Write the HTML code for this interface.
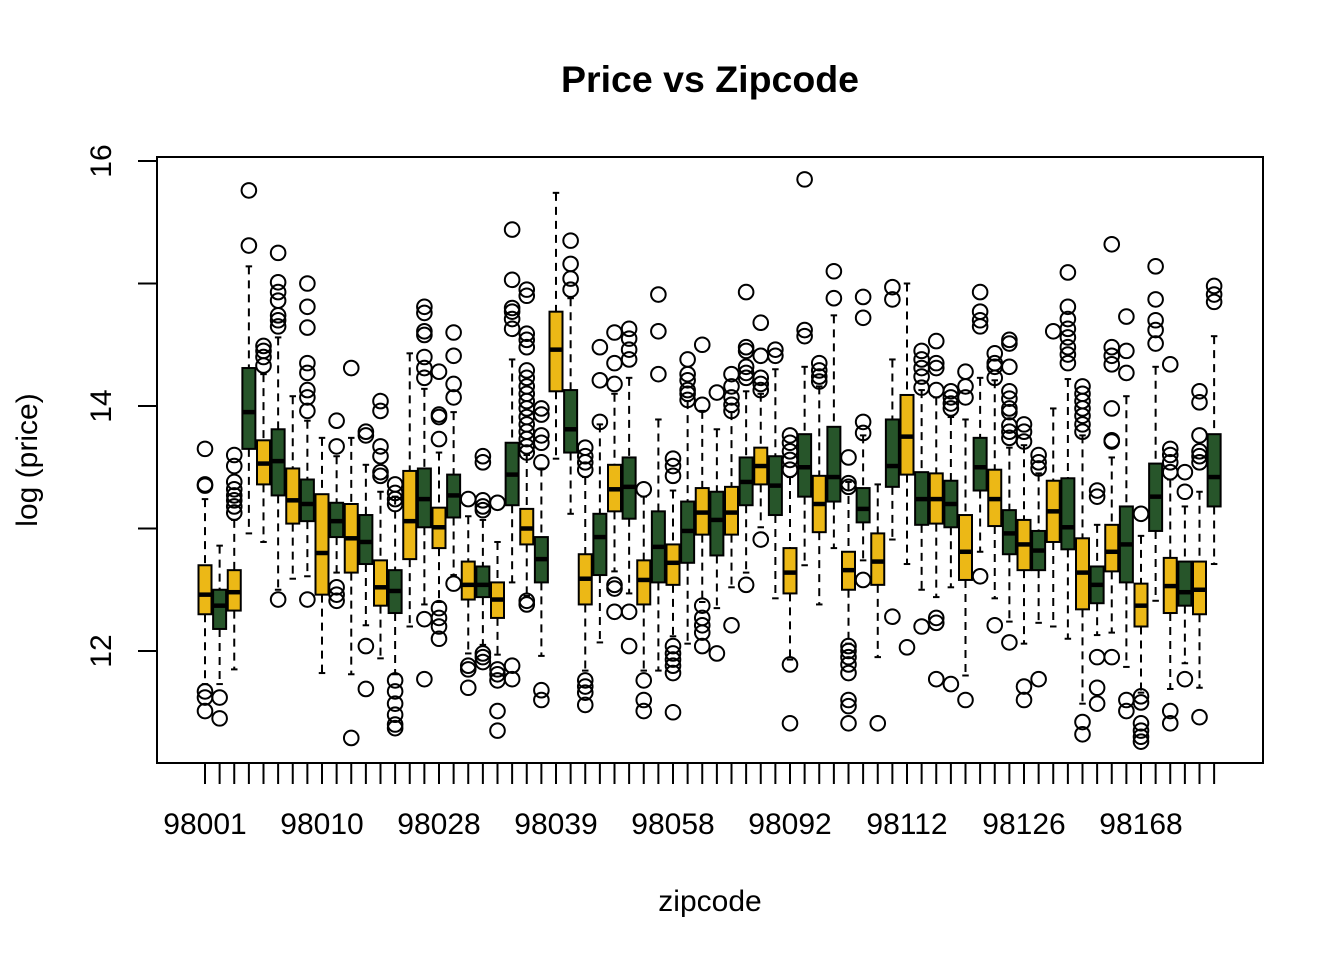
<!DOCTYPE html>
<html><head><meta charset="utf-8"><title>Price vs Zipcode</title>
<style>html,body{margin:0;padding:0;background:#fff;}svg{display:block;font-family:"Liberation Sans",Arial,sans-serif;}</style>
</head><body>
<svg id="chart" width="1344" height="960" viewBox="0 0 1344 960" xmlns="http://www.w3.org/2000/svg">
<rect x="0" y="0" width="1344" height="960" fill="#fff"/>
<text x="710" y="92" text-anchor="middle" font-size="37.5" font-weight="bold">Price vs Zipcode</text>
<text x="710" y="911" text-anchor="middle" font-size="30">zipcode</text>
<text transform="translate(37,460) rotate(-90)" text-anchor="middle" font-size="30">log (price)</text>
<g id="marks"></g>
<g id="axes"></g>
<rect x="157" y="157" width="1106" height="606" fill="none" stroke="#000" stroke-width="2"/>
</svg>
<script>
const lowWhisker=[11.73,11.73,11.85,12.96,12.89,12.50,12.59,12.61,11.82,12.64,11.81,12.21,11.94,11.81,12.20,12.38,12.40,12.62,11.98,12.05,11.97,12.56,12.45,11.96,13.57,13.12,11.84,12.07,12.65,12.47,11.84,11.84,12.12,12.06,12.40,12.35,12.52,12.64,13.01,12.43,11.93,12.70,12.38,12.84,12.06,12.74,11.95,12.91,12.71,12.50,12.44,12.52,11.80,12.81,12.43,12.24,12.06,12.23,12.20,12.10,11.57,12.13,12.15,11.87,11.66,12.41,11.69,11.90,11.70,12.71];
const q1=[12.30,12.18,12.33,13.65,13.36,13.27,13.04,13.06,12.46,12.93,12.64,12.71,12.37,12.31,12.75,13.01,12.84,13.09,12.42,12.44,12.27,13.19,12.87,12.56,14.12,13.62,12.38,12.62,13.14,13.08,12.38,12.56,12.54,12.72,12.95,12.78,12.95,13.19,13.36,13.11,12.47,13.26,12.97,13.22,12.50,13.05,12.54,13.34,13.44,13.03,13.04,13.01,12.58,13.31,13.02,12.79,12.66,12.66,12.89,12.83,12.34,12.39,12.65,12.56,12.20,12.98,12.31,12.37,12.30,13.18];
const medians=[12.46,12.37,12.48,13.95,13.53,13.55,13.23,13.20,12.80,13.06,12.92,12.89,12.52,12.49,13.06,13.24,13.01,13.27,12.54,12.54,12.42,13.44,13.00,12.75,14.46,13.81,12.59,12.93,13.32,13.34,12.58,12.85,12.72,12.98,13.13,13.07,13.13,13.38,13.51,13.35,12.64,13.50,13.20,13.42,12.66,13.16,12.73,13.51,13.75,13.24,13.24,13.20,12.81,13.50,13.24,12.96,12.87,12.82,13.14,13.01,12.64,12.54,12.81,12.87,12.37,13.26,12.53,12.48,12.50,13.42];
const q3=[12.70,12.50,12.66,14.31,13.72,13.81,13.49,13.40,13.28,13.21,13.20,13.11,12.74,12.66,13.47,13.49,13.17,13.44,12.73,12.69,12.56,13.70,13.16,12.93,14.77,14.13,12.79,13.12,13.52,13.58,12.74,13.14,12.87,13.22,13.33,13.30,13.34,13.58,13.66,13.59,12.84,13.77,13.43,13.83,12.81,13.33,12.96,13.89,14.09,13.46,13.45,13.39,13.11,13.74,13.48,13.15,13.07,12.98,13.39,13.41,12.92,12.69,13.03,13.18,12.55,13.53,12.76,12.73,12.73,13.77];
const upWhisker=[13.24,12.86,13.07,15.14,14.26,14.56,14.08,13.88,13.74,13.59,13.74,13.52,13.30,13.26,14.43,14.14,13.62,13.95,13.10,13.07,12.89,14.38,13.60,13.49,15.74,14.88,13.42,13.85,14.10,14.23,13.26,13.89,13.31,14.04,13.96,13.81,13.95,14.12,14.10,14.30,13.42,14.32,14.16,14.74,13.38,13.76,13.36,14.38,15.00,14.13,14.07,13.91,13.89,14.23,14.21,13.66,13.68,13.45,13.98,14.22,13.76,13.03,13.58,14.08,12.94,14.32,13.40,13.18,13.30,14.57];
const outliers=[
[13.65,13.35,13.36,11.67,11.62,11.51],
[11.62,11.45],
[13.60,13.51,13.38,13.32,13.27,13.23,13.18,13.13],
[15.76,15.31],
[14.49,14.45,14.40,14.33],
[12.42,15.25,15.01,14.93,14.86,14.74,14.70,14.65],
[],
[12.42,15.00,14.81,14.64,14.35,14.27,14.13,14.07,13.96],
[],
[13.88,13.67,12.52,12.46,12.41],
[14.31,11.29],
[13.79,13.76,12.04,11.69],
[13.67,13.59,13.46,13.43,14.04,13.96],
[13.36,13.29,13.24,13.20,11.76,11.67,11.57,11.48,11.40,11.37],
[],
[14.81,14.76,14.61,14.58,14.40,14.31,14.23,12.26,11.77],
[14.28,13.93,13.91,13.73,12.35,12.27,12.20,12.10],
[14.60,14.41,14.18,14.07,12.55],
[13.24,11.88,11.85,11.70],
[13.59,13.54,13.23,13.18,13.15,11.98,11.95,11.91],
[13.21,11.85,11.81,11.76,11.51,11.35],
[15.44,15.03,14.80,14.77,14.71,14.63,11.88,11.77],
[14.95,14.90,14.59,14.54,14.48,14.29,14.23,14.16,14.10,14.04,13.98,13.91,13.85,13.79,13.73,13.67,13.62,12.41,12.38],
[13.98,13.93,13.76,13.70,13.54,11.68,11.60],
[],
[15.35,15.16,15.04,14.95],
[13.66,13.59,13.54,13.48,11.76,11.71,11.66,11.56],
[14.48,14.21,13.87],
[14.60,14.35,14.18,12.54,12.51,12.32],
[14.63,14.55,14.46,14.38,12.32,12.04],
[13.32,11.76,11.60,11.51],
[14.91,14.61,14.26],
[13.57,13.51,13.43,12.04,11.98,11.93,11.88,11.82,11.50],
[14.38,14.26,14.21,14.13,14.10,14.05],
[14.50,14.01,12.37,12.27,12.21,12.15,12.04],
[14.11,11.98],
[14.26,14.16,14.07,14.01,13.96,12.21],
[14.93,14.48,14.45,14.32,14.27,14.23,12.54],
[14.68,14.41,14.23,14.18,14.13,12.91],
[14.46,14.41],
[13.76,13.70,13.63,13.56,13.48,11.89,11.41],
[15.85,14.62,14.57],
[14.35,14.29,14.24,14.20],
[15.10,14.88],
[13.58,13.37,13.34,12.04,12.00,11.95,11.89,11.82,11.60,11.55,11.41],
[14.89,14.72,13.87,13.78,12.58],
[11.41],
[14.97,14.87,12.28],
[12.03],
[14.45,14.38,14.31,14.24,14.15,12.20],
[14.53,14.35,14.31,14.13,12.27,12.23,11.77],
[14.12,14.07,14.02,13.98,11.73],
[14.28,14.16,14.07,11.60],
[14.93,14.77,14.70,14.65,12.61],
[14.43,14.35,14.32,14.23,12.21],
[14.54,14.51,14.32,14.12,14.06,13.98,13.95,13.84,13.79,13.74,12.07],
[13.85,13.79,13.71,11.71,11.60],
[13.60,13.54,13.49,11.77],
[14.61],
[15.09,14.81,14.71,14.63,14.56,14.48,14.42,14.35],
[14.16,14.10,14.04,13.98,13.92,13.85,13.79,11.42,11.32],
[13.31,13.26,11.95,11.70,11.57],
[15.32,14.48,14.41,14.34,13.98,13.72,13.71,11.95],
[14.73,14.45,14.27,11.60,11.51],
[13.12,11.63,11.58,11.41,11.35,11.30,11.26],
[15.14,14.87,14.70,14.62,14.51],
[14.34,13.65,13.60,13.54,13.46,11.51,11.41],
[13.46,13.30,11.77],
[14.12,14.03,13.76,13.63,13.59,13.54,11.46],
[14.98,14.91,14.85]
];
const zipLabels=["98001","98010","98028","98039","98058","98092","98112","98126","98168"];
const labelEvery=8;
const yTicks=[12,13,14,15,16];

const NS="http://www.w3.org/2000/svg";
const X0=205, DX=14.625;
function xScale(i){return X0+i*DX;}
function yScale(v){return 651-(v-12)*122.5;}
function mk(tag,attrs,parent){const e=document.createElementNS(NS,tag);for(const k in attrs)e.setAttribute(k,attrs[k]);parent.appendChild(e);return e;}
const marks=document.getElementById('marks');
const axes=document.getElementById('axes');
const BW=13, SW=6.5;
for(let i=0;i<medians.length;i++){
  const cx=xScale(i);
  const col=(i%2===0)?'#ECB816':'#27552A';
  const g=mk('g',{},marks);
  
  
  const w1=mk('line',{x1:cx,x2:cx,y1:yScale(upWhisker[i]),y2:yScale(q3[i]),stroke:'#000','stroke-width':2,'stroke-dasharray':'8,6'},g);
  
  
  const w2=mk('line',{x1:cx,x2:cx,y1:yScale(q1[i]),y2:yScale(lowWhisker[i]),stroke:'#000','stroke-width':2,'stroke-dasharray':'8,6'},g);
  
  
  const s1=mk('line',{x1:cx-SW/2,x2:cx+SW/2,y1:yScale(upWhisker[i]),y2:yScale(upWhisker[i]),stroke:'#000','stroke-width':2},g);
  
  
  const s2=mk('line',{x1:cx-SW/2,x2:cx+SW/2,y1:yScale(lowWhisker[i]),y2:yScale(lowWhisker[i]),stroke:'#000','stroke-width':2},g);
  
  
  const r=mk('rect',{x:cx-BW/2,y:yScale(q3[i]),width:BW,height:yScale(q1[i])-yScale(q3[i]),fill:col,stroke:'#000','stroke-width':2},g);
  
  
  const m=mk('line',{x1:cx-BW/2,x2:cx+BW/2,y1:yScale(medians[i]),y2:yScale(medians[i]),stroke:'#000','stroke-width':4.5},g);
  
  
  for(const v of outliers[i]){
    const c=mk('circle',{cx:cx,cy:yScale(v),r:7.3,fill:'none',stroke:'#000','stroke-width':2},g);
    
    
  }
}
const xl=mk('line',{x1:xScale(0),x2:xScale(medians.length-1),y1:763,y2:763,stroke:'#000','stroke-width':2},axes);


for(let i=0;i<medians.length;i++){
  const t=mk('line',{x1:xScale(i),x2:xScale(i),y1:763,y2:784,stroke:'#000','stroke-width':2},axes);
  
  
}
zipLabels.forEach((lab,k)=>{
  const t=mk('text',{x:xScale(k*labelEvery),y:834,'text-anchor':'middle','font-size':30},axes);
  t.textContent=lab;
  
  
});
const yl=mk('line',{x1:157,x2:157,y1:yScale(yTicks[0]),y2:yScale(yTicks[yTicks.length-1]),stroke:'#000','stroke-width':2},axes);


yTicks.forEach(v=>{
  const t=mk('line',{x1:138,x2:157,y1:yScale(v),y2:yScale(v),stroke:'#000','stroke-width':2},axes);
  
  
  if(v%2===0){
    const l=mk('text',{transform:'translate(111,'+yScale(v)+') rotate(-90)','text-anchor':'middle','font-size':30},axes);
    l.textContent=String(v);
    
    
  }
});
</script>
</body></html>
